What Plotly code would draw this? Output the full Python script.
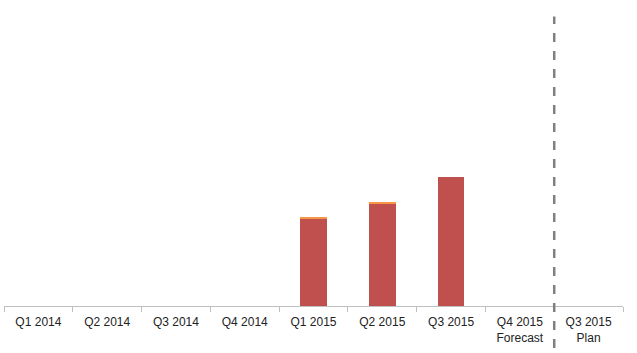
import plotly.graph_objects as go

categories = ["Q1 2014", "Q2 2014", "Q3 2014", "Q4 2014", "Q1 2015", "Q2 2015",
              "Q3 2015", "Q4 2015<br>Forecast", "Q3 2015<br>Plan"]
actual = [0, 0, 0, 0, 29.0, 34.3, 43.0, 0, 0]
extra = [0, 0, 0, 0, 0.8, 0.4, 0, 0, 0]

fig = go.Figure()
fig.add_trace(go.Bar(x=categories, y=actual, marker=dict(color="#c0504d", line=dict(width=0)),
                     name="Actual"))
fig.add_trace(go.Bar(x=categories, y=extra, marker=dict(color="#f79646", line=dict(width=0)),
                     name="Other"))

fig.update_layout(
    barmode="stack",
    bargap=0.61,
    width=637, height=353,
    margin=dict(l=4, r=14, t=6, b=47),
    paper_bgcolor="white", plot_bgcolor="white",
    showlegend=False,
    font=dict(family="Liberation Sans Narrow, Arial Narrow, Liberation Sans, sans-serif", size=12, color="#222222"),
    xaxis=dict(type="category", tickson="boundaries", ticks="outside", ticklen=5,
               tickcolor="#bfbfbf", showline=True, linecolor="#bfbfbf", linewidth=1,
               showgrid=False, tickangle=0, range=[-0.5, 8.5], ticklabelstandoff=5),
    yaxis=dict(range=[0, 100], visible=False, showgrid=False),
)

fig.add_shape(type="line", xref="x", yref="paper", x0=7.5, x1=7.5, y0=-0.2, y1=0.965,
              line=dict(color="#808080", width=2.5, dash="dash"), layer="above")

fig.write_html("out.html")
